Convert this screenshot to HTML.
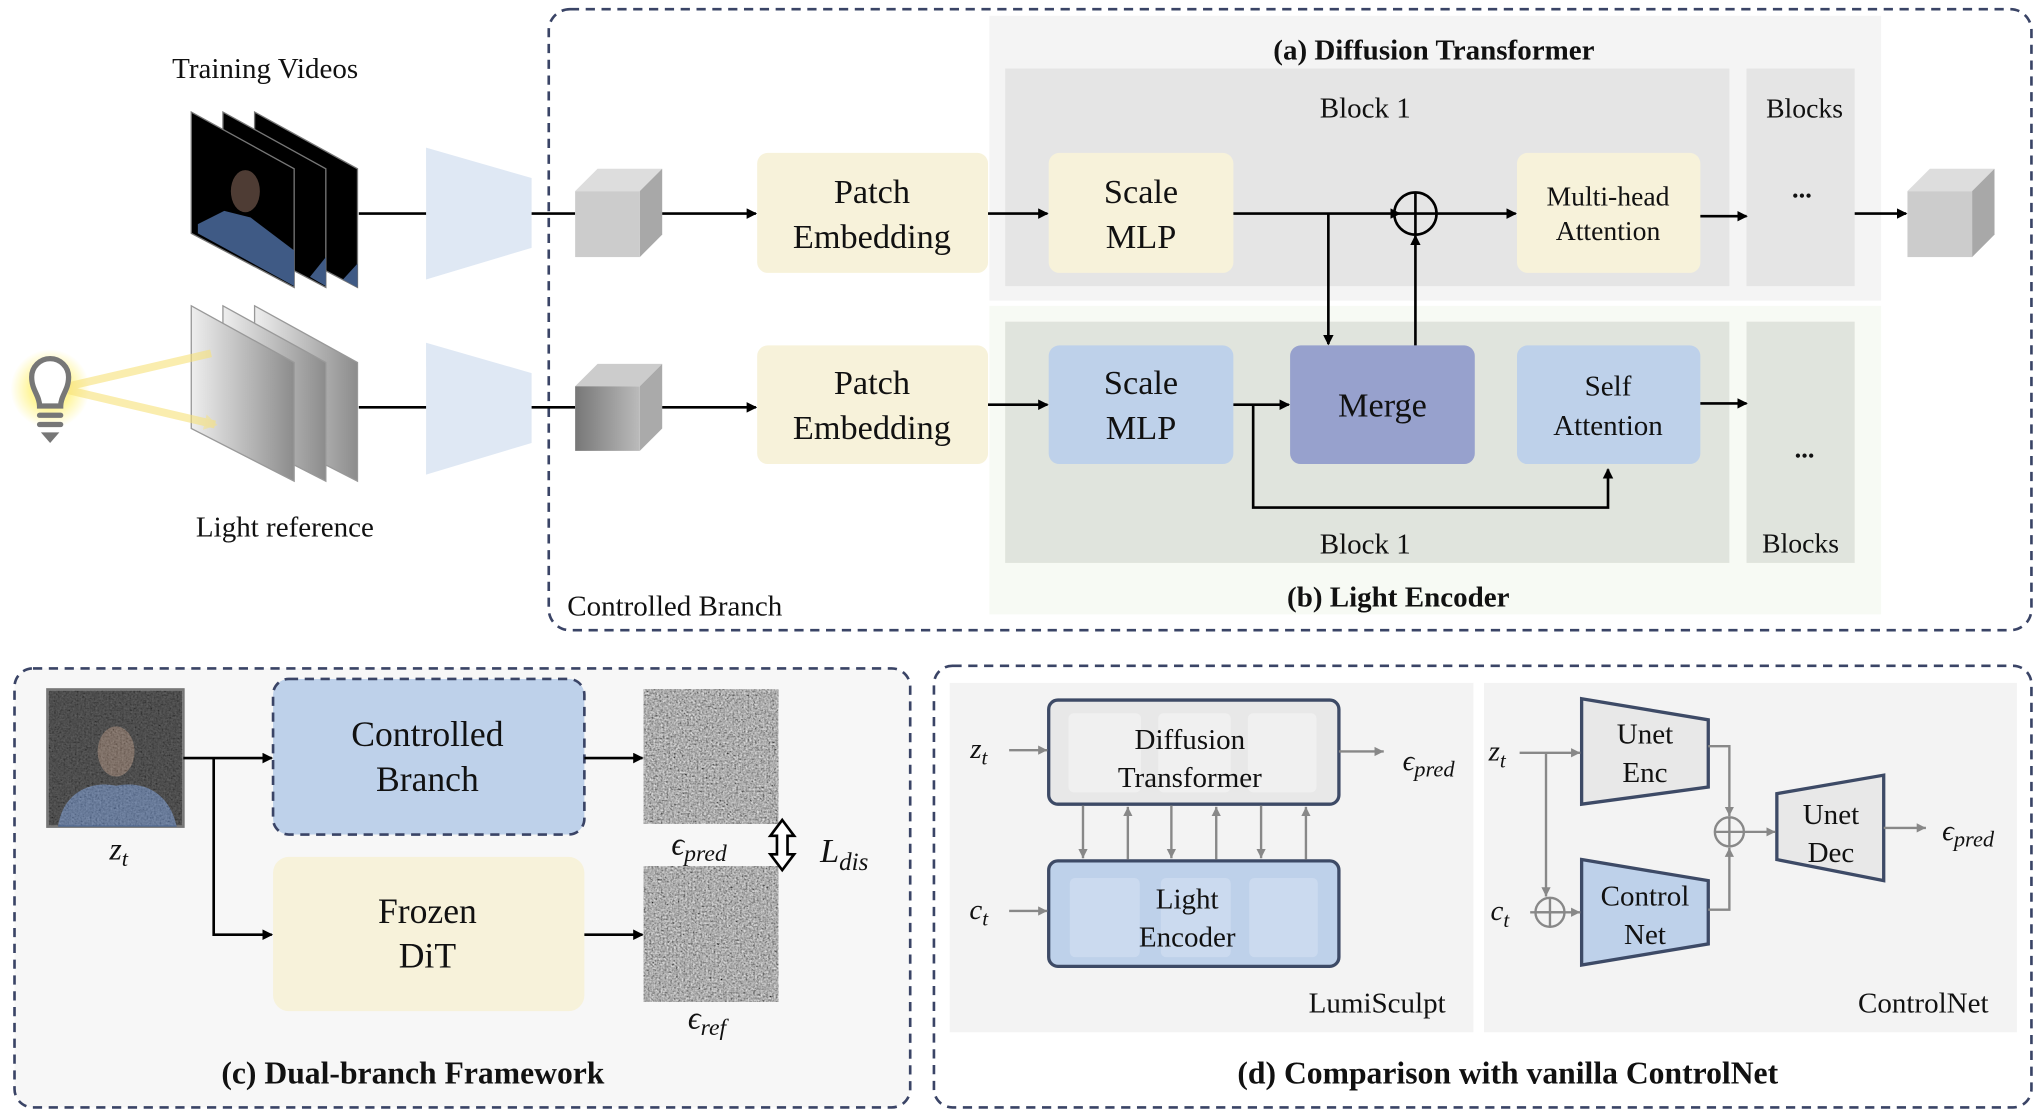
<!DOCTYPE html>
<html><head><meta charset="utf-8"><style>
html,body{margin:0;padding:0;background:#fff}
svg{display:block}
text{font-family:"Liberation Serif",serif;fill:#111}
.b{font-weight:bold}
.m{font-style:italic}
</style></head><body>
<svg width="2042" height="1114" viewBox="0 0 1548 845" preserveAspectRatio="none" xmlns="http://www.w3.org/2000/svg">
<defs>
<marker id="ah" markerWidth="8" markerHeight="8" refX="7" refY="4" orient="auto" markerUnits="userSpaceOnUse"><path d="M0,0 L8,4 L0,8 z" fill="#000"/></marker>
<marker id="ag" markerWidth="8" markerHeight="8" refX="7" refY="4" orient="auto" markerUnits="userSpaceOnUse"><path d="M0,0.5 L7,4 L0,7.5 z" fill="#888"/></marker>
<marker id="ay" markerWidth="12" markerHeight="12" refX="8" refY="6" orient="auto" markerUnits="userSpaceOnUse"><path d="M0,0 L10,6 L0,12 z" fill="#f7e27a" opacity="0.8"/></marker>
<filter id="noise" x="0" y="0" width="100%" height="100%"><feTurbulence type="fractalNoise" baseFrequency="0.7" numOctaves="2" seed="3"/><feColorMatrix type="matrix" values="0.33 0.33 0.33 0 0  0.33 0.33 0.33 0 0  0.33 0.33 0.33 0 0  0 0 0 0 1"/><feComponentTransfer><feFuncR type="linear" slope="1.8" intercept="-0.45"/><feFuncG type="linear" slope="1.8" intercept="-0.45"/><feFuncB type="linear" slope="1.8" intercept="-0.45"/></feComponentTransfer></filter>
<linearGradient id="lg" x1="0" x2="1"><stop offset="0" stop-color="#eee"/><stop offset="1" stop-color="#8c8c8c"/></linearGradient>
<linearGradient id="cg" x1="0" x2="1"><stop offset="0" stop-color="#777"/><stop offset="1" stop-color="#bbb"/></linearGradient>
<radialGradient id="glow"><stop offset="0.5" stop-color="#fff59a"/><stop offset="1" stop-color="#fff59a" stop-opacity="0"/></radialGradient>
</defs>

<rect x="416" y="7" width="1124" height="471" rx="16" fill="none" stroke="#3a4466" stroke-width="2" stroke-dasharray="7,5"/>
<rect x="750" y="12" width="676" height="216" fill="#f4f4f4"/>
<rect x="762" y="52" width="549" height="165" fill="#e5e5e5"/>
<rect x="1324" y="52" width="82" height="165" fill="#e5e5e5"/>
<rect x="750" y="232" width="676" height="234" fill="#f7faf4"/>
<rect x="762" y="244" width="549" height="183" fill="#e0e4dd"/>
<rect x="1324" y="244" width="82" height="183" fill="#e0e4dd"/>

<text x="1087" y="45" font-size="22" text-anchor="middle" class="b">(a) Diffusion Transformer</text>
<text x="1035" y="89" font-size="22" text-anchor="middle">Block 1</text>
<text x="1368" y="89" font-size="21" text-anchor="middle">Blocks</text>
<text x="1366" y="150" font-size="20" text-anchor="middle" class="b">...</text>
<text x="1035" y="420" font-size="22" text-anchor="middle">Block 1</text>
<text x="1365" y="419" font-size="21" text-anchor="middle">Blocks</text>
<text x="1368" y="347" font-size="20" text-anchor="middle" class="b">...</text>
<text x="1060" y="460" font-size="22" text-anchor="middle" class="b">(b) Light Encoder</text>
<text x="430" y="467" font-size="22">Controlled Branch</text>

<text x="201" y="59" font-size="22" text-anchor="middle">Training Videos</text>
<text x="216" y="407" font-size="22" text-anchor="middle">Light reference</text>

<g>
<polygon points="193,85 271,128 271,218 193,177" fill="#000" stroke="#777"/>
<polygon points="169,85 247,128 247,218 169,177" fill="#000" stroke="#777"/>
<polygon points="145,85 223,128 223,218 145,177" fill="#000" stroke="#777"/>
<polygon points="150,170 170,160 190,165 223,190 223,217 150,177" fill="#3f5a85"/>
<polygon points="247,195 247,217 235,210" fill="#3f5a85"/>
<polygon points="271,200 271,218 260,212" fill="#3f5a85"/>
<ellipse cx="186" cy="145" rx="11" ry="16" fill="#4e3c34"/>
</g>
<g>
<polygon points="193,232 271,275 271,365 193,325" fill="url(#lg)" stroke="#999"/>
<polygon points="169,232 247,275 247,365 169,325" fill="url(#lg)" stroke="#999"/>
<polygon points="145,232 223,275 223,365 145,325" fill="url(#lg)" stroke="#999"/>
</g>
<circle cx="38" cy="295" r="30" fill="url(#glow)"/>
<path d="M52,293 L160,268 M52,296 L163,322" stroke="#f7e27a" stroke-width="6" opacity="0.6" marker-end="url(#ay)"/>
<path d="M30,308 C30,300 24,296 24,286 A14,14 0 1 1 52,286 C52,296 46,300 46,308 Z" fill="#fff" stroke="#777" stroke-width="4"/>
<rect x="28" y="313" width="20" height="4" rx="2" fill="#777"/>
<rect x="28" y="320" width="20" height="4" rx="2" fill="#777"/>
<path d="M31,328 L45,328 L38,336 Z" fill="#777"/>

<polygon points="323,112 403,135 403,188 323,212" fill="#dfe8f4"/>
<polygon points="323,260 403,283 403,336 323,360" fill="#dfe8f4"/>
<line x1="272" y1="162" x2="323" y2="162" stroke="#000" stroke-width="2"/>
<line x1="403" y1="162" x2="436" y2="162" stroke="#000" stroke-width="2"/>
<line x1="272" y1="309" x2="323" y2="309" stroke="#000" stroke-width="2"/>
<line x1="403" y1="309" x2="436" y2="309" stroke="#000" stroke-width="2"/>

<g><polygon points="436,145 453,128 502,128 485,145" fill="#ddd"/><polygon points="485,145 502,128 502,178 485,195" fill="#a8a8a8"/><rect x="436" y="145" width="49" height="50" fill="#ccc"/></g>
<g><polygon points="436,293 453,276 502,276 485,293" fill="#ccc"/><polygon points="485,293 502,276 502,325 485,342" fill="#aaa"/><rect x="436" y="293" width="49" height="49" fill="url(#cg)"/></g>
<g><polygon points="1446,145 1463,128 1512,128 1495,145" fill="#ddd"/><polygon points="1495,145 1512,128 1512,178 1495,195" fill="#a8a8a8"/><rect x="1446" y="145" width="49" height="50" fill="#ccc"/></g>

<line x1="502" y1="162" x2="573" y2="162" stroke="#000" stroke-width="2" marker-end="url(#ah)"/>
<line x1="502" y1="309" x2="573" y2="309" stroke="#000" stroke-width="2" marker-end="url(#ah)"/>

<rect x="574" y="116" width="175" height="91" rx="8" fill="#f7f2da"/>
<text x="661" y="154" font-size="26" text-anchor="middle">Patch</text>
<text x="661" y="188" font-size="26" text-anchor="middle">Embedding</text>
<rect x="574" y="262" width="175" height="90" rx="8" fill="#f7f2da"/>
<text x="661" y="299" font-size="26" text-anchor="middle">Patch</text>
<text x="661" y="333" font-size="26" text-anchor="middle">Embedding</text>

<rect x="795" y="116" width="140" height="91" rx="8" fill="#f7f2da"/>
<text x="865" y="154" font-size="26" text-anchor="middle">Scale</text>
<text x="865" y="188" font-size="26" text-anchor="middle">MLP</text>
<rect x="795" y="262" width="140" height="90" rx="8" fill="#bed1ea"/>
<text x="865" y="299" font-size="26" text-anchor="middle">Scale</text>
<text x="865" y="333" font-size="26" text-anchor="middle">MLP</text>

<rect x="978" y="262" width="140" height="90" rx="8" fill="#97a1cd"/>
<text x="1048" y="316" font-size="26" text-anchor="middle">Merge</text>
<rect x="1150" y="116" width="139" height="91" rx="8" fill="#f7f2da"/>
<text x="1219" y="156" font-size="21" text-anchor="middle">Multi-head</text>
<text x="1219" y="182" font-size="21" text-anchor="middle">Attention</text>
<rect x="1150" y="262" width="139" height="90" rx="8" fill="#bed1ea"/>
<text x="1219" y="300" font-size="22" text-anchor="middle">Self</text>
<text x="1219" y="330" font-size="22" text-anchor="middle">Attention</text>

<line x1="749" y1="162" x2="794" y2="162" stroke="#000" stroke-width="2" marker-end="url(#ah)"/>
<line x1="935" y1="162" x2="1061" y2="162" stroke="#000" stroke-width="2" marker-end="url(#ah)"/>
<circle cx="1073" cy="162" r="16" fill="none" stroke="#000" stroke-width="2"/>
<line x1="1057" y1="162" x2="1089" y2="162" stroke="#000" stroke-width="2"/>
<line x1="1073" y1="146" x2="1073" y2="178" stroke="#000" stroke-width="2"/>
<line x1="1089" y1="162" x2="1149" y2="162" stroke="#000" stroke-width="2" marker-end="url(#ah)"/>
<line x1="1007" y1="162" x2="1007" y2="261" stroke="#000" stroke-width="2" marker-end="url(#ah)"/>
<line x1="1073" y1="262" x2="1073" y2="179" stroke="#000" stroke-width="2" marker-end="url(#ah)"/>
<line x1="1289" y1="164" x2="1324" y2="164" stroke="#000" stroke-width="2" marker-end="url(#ah)"/>
<line x1="1406" y1="162" x2="1445" y2="162" stroke="#000" stroke-width="2" marker-end="url(#ah)"/>
<line x1="749" y1="307" x2="794" y2="307" stroke="#000" stroke-width="2" marker-end="url(#ah)"/>
<line x1="935" y1="307" x2="977" y2="307" stroke="#000" stroke-width="2" marker-end="url(#ah)"/>
<polyline points="950,307 950,385 1219,385 1219,356" fill="none" stroke="#000" stroke-width="2" marker-end="url(#ah)"/>
<line x1="1289" y1="306" x2="1324" y2="306" stroke="#000" stroke-width="2" marker-end="url(#ah)"/>

<rect x="11" y="507" width="679" height="333" rx="14" fill="#f7f7f7" stroke="#3a4466" stroke-width="2" stroke-dasharray="7,5"/>
<rect x="36" y="523" width="103" height="104" fill="#222" stroke="#777" stroke-width="2"/>
<ellipse cx="88" cy="570" rx="14" ry="19" fill="#6a5548"/>
<path d="M44,627 C48,600 70,592 88,596 C108,592 128,600 134,627 Z" fill="#4a6490"/>
<rect x="37" y="524" width="101" height="102" filter="url(#noise)" opacity="0.3"/>
<text x="90" y="652" font-size="24" text-anchor="middle" class="m">z<tspan font-size="17" dy="5">t</tspan></text>

<rect x="207" y="515" width="236" height="118" rx="12" fill="#bed1ea" stroke="#3a4466" stroke-width="2" stroke-dasharray="7,5"/>
<text x="324" y="566" font-size="27" text-anchor="middle">Controlled</text>
<text x="324" y="600" font-size="27" text-anchor="middle">Branch</text>
<rect x="207" y="650" width="236" height="117" rx="12" fill="#f7f2da"/>
<text x="324" y="700" font-size="27" text-anchor="middle">Frozen</text>
<text x="324" y="734" font-size="27" text-anchor="middle">DiT</text>

<line x1="139" y1="575" x2="206" y2="575" stroke="#000" stroke-width="2" marker-end="url(#ah)"/>
<polyline points="162,575 162,709 206,709" fill="none" stroke="#000" stroke-width="2" marker-end="url(#ah)"/>
<line x1="443" y1="575" x2="487" y2="575" stroke="#000" stroke-width="2" marker-end="url(#ah)"/>
<line x1="443" y1="709" x2="487" y2="709" stroke="#000" stroke-width="2" marker-end="url(#ah)"/>
<rect x="488" y="523" width="102" height="102" fill="#555"/>
<rect x="488" y="523" width="102" height="102" filter="url(#noise)" opacity="0.95"/>
<rect x="488" y="657" width="102" height="103" fill="#555"/>
<rect x="488" y="657" width="102" height="103" filter="url(#noise)" opacity="0.95"/>
<path d="M593,622 L602,634 L597,634 L597,648 L602,648 L593,660 L584,648 L589,648 L589,634 L584,634 Z" fill="#fff" stroke="#000" stroke-width="2"/>
<text x="530" y="648" font-size="24" text-anchor="middle" class="m">ϵ<tspan font-size="18" dy="5">pred</tspan></text>
<text x="640" y="654" font-size="26" text-anchor="middle" class="m">L<tspan font-size="19" dy="6">dis</tspan></text>
<text x="536" y="780" font-size="24" text-anchor="middle" class="m">ϵ<tspan font-size="18" dy="5">ref</tspan></text>
<text x="313" y="822" font-size="24" text-anchor="middle" class="b">(c) Dual-branch Framework</text>

<rect x="708" y="505" width="832" height="335" rx="14" fill="#fff" stroke="#3a4466" stroke-width="2" stroke-dasharray="7,5"/>
<rect x="720" y="518" width="397" height="265" fill="#f3f3f3"/>
<rect x="1125" y="518" width="404" height="265" fill="#f3f3f3"/>

<rect x="795" y="531" width="220" height="79" rx="7" fill="#e8e8e8" stroke="#3d4a66" stroke-width="2.5"/>
<rect x="810" y="541" width="55" height="60" rx="4" fill="#f0f0f0"/>
<rect x="878" y="541" width="55" height="60" rx="4" fill="#f0f0f0"/>
<rect x="946" y="541" width="52" height="60" rx="4" fill="#f0f0f0"/>
<text x="902" y="568" font-size="22" text-anchor="middle">Diffusion</text>
<text x="902" y="597" font-size="22" text-anchor="middle">Transformer</text>
<rect x="795" y="653" width="220" height="80" rx="7" fill="#bed1ea" stroke="#3d4a66" stroke-width="2.5"/>
<rect x="811" y="666" width="53" height="60" rx="4" fill="#cbdaef"/>
<rect x="880" y="666" width="53" height="60" rx="4" fill="#cbdaef"/>
<rect x="947" y="666" width="52" height="60" rx="4" fill="#cbdaef"/>
<text x="900" y="689" font-size="22" text-anchor="middle">Light</text>
<text x="900" y="718" font-size="22" text-anchor="middle">Encoder</text>
<g stroke="#888" stroke-width="1.8">
<line x1="821" y1="611" x2="821" y2="651" marker-end="url(#ag)"/>
<line x1="855" y1="652" x2="855" y2="612" marker-end="url(#ag)"/>
<line x1="888" y1="611" x2="888" y2="651" marker-end="url(#ag)"/>
<line x1="922" y1="652" x2="922" y2="612" marker-end="url(#ag)"/>
<line x1="956" y1="611" x2="956" y2="651" marker-end="url(#ag)"/>
<line x1="990" y1="652" x2="990" y2="612" marker-end="url(#ag)"/>
<line x1="765" y1="569" x2="794" y2="569" marker-end="url(#ag)"/>
<line x1="765" y1="691" x2="794" y2="691" marker-end="url(#ag)"/>
<line x1="1015" y1="570" x2="1049" y2="570" marker-end="url(#ag)"/>
</g>
<text x="742" y="575" font-size="22" text-anchor="middle" class="m">z<tspan font-size="16" dy="5">t</tspan></text>
<text x="742" y="697" font-size="22" text-anchor="middle" class="m">c<tspan font-size="16" dy="5">t</tspan></text>
<text x="1083" y="584" font-size="22" text-anchor="middle" class="m">ϵ<tspan font-size="17" dy="5">pred</tspan></text>
<text x="1044" y="768" font-size="22" text-anchor="middle">LumiSculpt</text>

<polygon points="1199,530 1295,546 1295,597 1199,610" fill="#e8e8e8" stroke="#3d4a66" stroke-width="2.5"/>
<text x="1247" y="564" font-size="22" text-anchor="middle">Unet</text>
<text x="1247" y="593" font-size="22" text-anchor="middle">Enc</text>
<polygon points="1199,652 1295,668 1295,716 1199,732" fill="#bed1ea" stroke="#3d4a66" stroke-width="2.5"/>
<text x="1247" y="687" font-size="22" text-anchor="middle">Control</text>
<text x="1247" y="716" font-size="22" text-anchor="middle">Net</text>
<polygon points="1347,602 1428,588 1428,668 1347,652" fill="#e8e8e8" stroke="#3d4a66" stroke-width="2.5"/>
<text x="1388" y="625" font-size="22" text-anchor="middle">Unet</text>
<text x="1388" y="654" font-size="22" text-anchor="middle">Dec</text>
<g stroke="#888" stroke-width="1.8" fill="none">
<line x1="1152" y1="571" x2="1198" y2="571" marker-end="url(#ag)"/>
<polyline points="1172,571 1172,680" marker-end="url(#ag)"/>
<circle cx="1175" cy="692" r="11"/>
<line x1="1164" y1="692" x2="1186" y2="692"/><line x1="1175" y1="681" x2="1175" y2="703"/>
<line x1="1160" y1="692" x2="1198" y2="692" marker-end="url(#ag)"/>
<polyline points="1295,566 1311,566 1311,619" marker-end="url(#ag)"/>
<polyline points="1295,690 1311,690 1311,643" marker-end="url(#ag)"/>
<circle cx="1311" cy="631" r="11"/>
<line x1="1300" y1="631" x2="1322" y2="631"/><line x1="1311" y1="620" x2="1311" y2="642"/>
<line x1="1322" y1="631" x2="1346" y2="631" marker-end="url(#ag)"/>
<line x1="1428" y1="628" x2="1460" y2="628" marker-end="url(#ag)"/>
</g>
<text x="1135" y="577" font-size="22" text-anchor="middle" class="m">z<tspan font-size="16" dy="5">t</tspan></text>
<text x="1137" y="698" font-size="22" text-anchor="middle" class="m">c<tspan font-size="16" dy="5">t</tspan></text>
<text x="1492" y="637" font-size="22" text-anchor="middle" class="m">ϵ<tspan font-size="17" dy="5">pred</tspan></text>
<text x="1458" y="768" font-size="22" text-anchor="middle">ControlNet</text>
<text x="1143" y="822" font-size="24" text-anchor="middle" class="b">(d) Comparison with vanilla ControlNet</text>
</svg>
</body></html>
